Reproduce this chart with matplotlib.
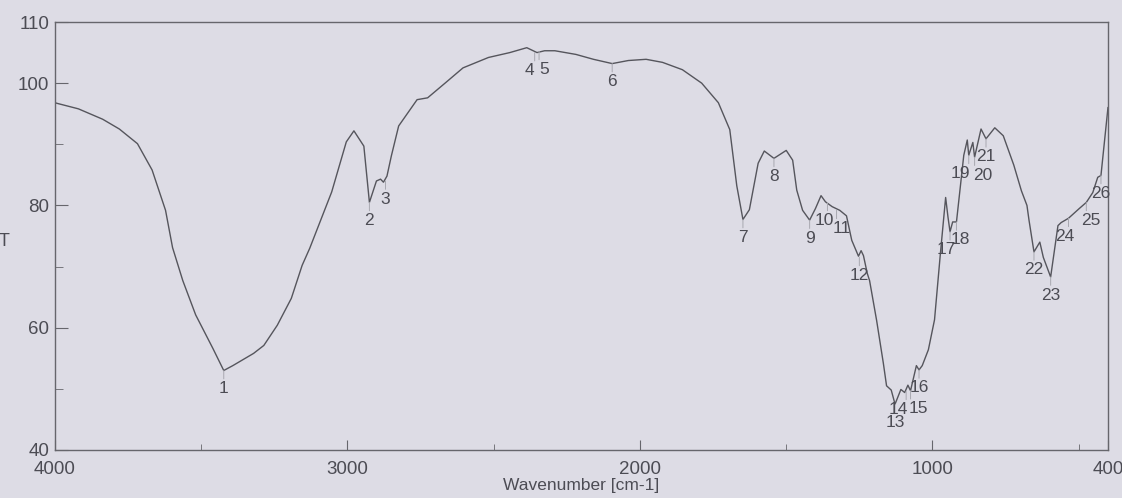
import matplotlib
matplotlib.use("Agg")
import matplotlib.pyplot as plt
from matplotlib.ticker import FixedLocator

# ---- data ----
wavenumber = [4000, 3993, 3920, 3837, 3780, 3718, 3668, 3622, 3598, 3563, 3519, 3460,
              3423, 3392, 3321, 3286, 3240, 3192, 3155, 3129, 3054, 3004, 2978, 2944,
              2925, 2901, 2887, 2877, 2865, 2850, 2825, 2762, 2726, 2664, 2605, 2518,
              2445, 2387, 2352, 2326, 2291, 2219, 2159, 2095, 2040, 1979, 1923, 1855,
              1789, 1732, 1693, 1669, 1648, 1626, 1596, 1575, 1542, 1500, 1478, 1464,
              1444, 1420, 1400, 1381, 1366, 1343, 1317, 1294, 1276, 1253, 1244, 1236,
              1223, 1215, 1191, 1168, 1157, 1141, 1128, 1108, 1095, 1084, 1075, 1055,
              1046, 1035, 1014, 993, 973, 955, 947, 940, 931, 918, 893, 881, 876, 862,
              856, 834, 817, 787, 758, 722, 696, 677, 670, 653, 633, 621, 596, 571,
              560, 535, 498, 474, 452, 435, 424, 400]
transmittance = [96.8, 96.7, 95.8, 94.1, 92.5, 90.1, 85.8, 79.2, 73.1, 67.7, 62.1, 56.6,
                 53.0, 53.8, 55.8, 57.1, 60.4, 64.8, 70.2, 73.0, 82.2, 90.4, 92.2, 89.7,
                 80.5, 84.0, 84.3, 83.8, 84.8, 88.1, 93.0, 97.3, 97.6, 100.1, 102.5, 104.2,
                 105.0, 105.8, 105.0, 105.3, 105.3, 104.7, 103.9, 103.2, 103.7, 103.9, 103.4, 102.2,
                 100.0, 96.8, 92.4, 83.2, 77.7, 79.3, 86.9, 88.9, 87.7, 89.0, 87.4, 82.5,
                 79.2, 77.6, 79.5, 81.6, 80.6, 79.8, 79.2, 78.3, 74.3, 71.7, 72.6, 71.8,
                 68.9, 67.7, 61.2, 54.2, 50.5, 49.8, 47.5, 49.9, 49.4, 50.6, 49.7, 53.8,
                 53.1, 53.8, 56.4, 61.3, 72.1, 81.3, 78.1, 75.7, 77.3, 77.3, 88.2, 90.7, 88.2, 90.3,
                 87.9, 92.5, 90.9, 92.7, 91.4, 86.6, 82.4, 80.0, 77.6, 72.4, 74.0, 71.5, 68.3, 76.7,
                 77.2, 77.9, 79.5, 80.5, 82.1, 84.6, 84.9, 96.0]

peak_numbers = list(range(1, 27))
peak_wavenumber = [3423, 2925, 2870, 2360, 2345, 2095, 1648, 1542, 1420, 1359, 1328, 1250,
                   1128, 1090, 1075, 1046, 940, 918, 876, 856, 817, 653, 596, 535, 474, 424]
peak_transmittance = [53.0, 80.5, 84.0, 105.0, 105.2, 103.2, 77.7, 87.7, 77.6, 80.5, 79.2, 71.5,
                      47.5, 49.6, 49.7, 53.1, 75.7, 77.3, 88.2, 87.9, 90.9, 72.4, 68.3, 77.9, 80.5, 84.9]

x_major = [4000, 3000, 2000, 1000, 400]
x_major_labels = ["4000", "3000", "2000", "1000", "400"]
x_minor = [3500, 2500, 1500, 500]
y_major = [40, 60, 80, 100, 110]
y_minor = [50, 70, 90]

# label nudges (points) so that crowded numbers stay legible
label_dx = {4: -3.5, 5: 3.5, 10: -2, 11: 4, 14: -6, 15: 6, 17: -3, 18: 3,
            19: -6, 20: 6, 24: -3, 25: 3}

# ---- style ----
plt.rcParams['font.family'] = ['Liberation Sans', 'DejaVu Sans']
bg = '#dddce5'
ink = '#4c4c54'
fig = plt.figure(figsize=(11.22, 4.98), dpi=100, facecolor=bg)
ax = fig.add_axes([0.049, 0.0964, 0.9385, 0.8594], facecolor=bg)

ax.plot(wavenumber, transmittance, color='#55555c', lw=1.0)
ax.set_xlim(4000, 400)
ax.set_ylim(40, 110)

for s in ax.spines.values():
    s.set_color('#66666c')
    s.set_linewidth(1.0)

ax.xaxis.set_major_locator(FixedLocator(x_major))
ax.set_xticklabels(x_major_labels)
ax.xaxis.set_minor_locator(FixedLocator(x_minor))
ax.yaxis.set_major_locator(FixedLocator(y_major))
ax.yaxis.set_minor_locator(FixedLocator(y_minor))
ax.tick_params(axis='both', which='both', direction='in', colors='#66666c',
               labelcolor=ink, labelsize=13.5)
ax.tick_params(axis='x', which='major', length=7, pad=8)
ax.tick_params(axis='x', which='minor', length=4)
ax.tick_params(axis='y', which='major', length=9, pad=4)
ax.tick_params(axis='y', which='minor', length=6)

ax.set_xlabel("Wavenumber [cm-1]", fontsize=12.5, color=ink, labelpad=0)

for n, wx, ty in zip(peak_numbers, peak_wavenumber, peak_transmittance):
    ax.annotate("", xy=(wx, ty), xytext=(0, -6), textcoords='offset points',
                arrowprops=dict(arrowstyle='-', color='#a8a8b0', lw=0.7,
                                shrinkA=0, shrinkB=0))
    ax.annotate(str(n), xy=(wx, ty), xytext=(label_dx.get(n, 0), -13),
                textcoords='offset points',
                ha='center', va='center', fontsize=12.5, color=ink)

fig.text(0.004, 0.515, "T", ha='center', va='center', fontsize=13, color=ink)

fig.savefig("out.png", dpi=100, facecolor=bg)
